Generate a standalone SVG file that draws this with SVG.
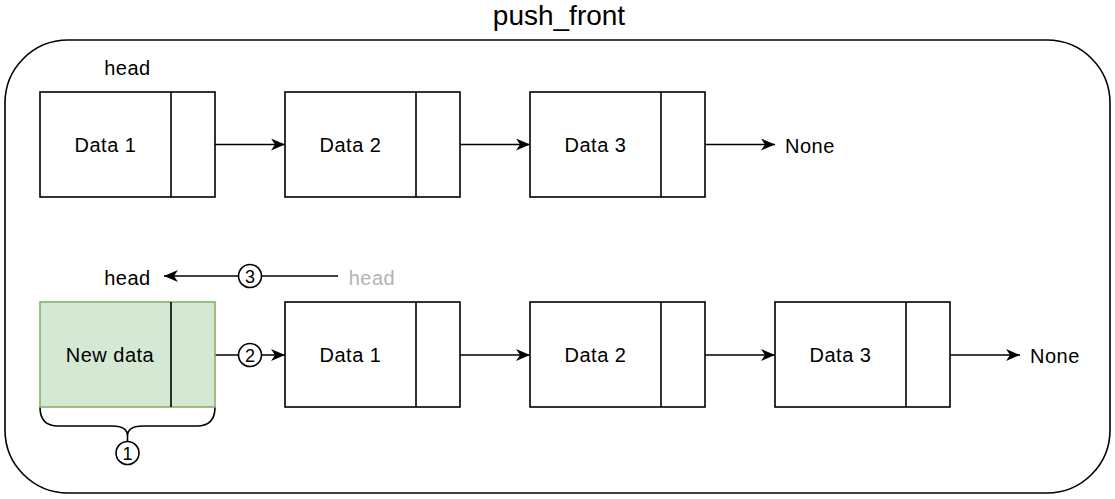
<svg xmlns="http://www.w3.org/2000/svg" width="1115" height="499" viewBox="0 0 1115 499">
<style>
  text { font-family: "Liberation Sans", Arial, sans-serif; fill: #000; }
  .lbl { font-size: 20px; letter-spacing: 0.5px; }
  .mid { text-anchor: middle; }
  .box { fill: #fff; stroke: #000; stroke-width: 1.6; }
  .newbox { fill: #d5e8d4; stroke: #82b366; stroke-width: 1.6; }
  .div { stroke: #000; stroke-width: 1.6; }
  .edge { stroke: #000; stroke-width: 1.6; fill: none; }
  .num { fill: #fff; stroke: #000; stroke-width: 1.6; }
  .numt { font-size: 18px; text-anchor: middle; }
  .grey { fill: #b3b3b3; }
</style>
<defs>
  <marker id="arr" markerUnits="userSpaceOnUse" markerWidth="14" markerHeight="12" refX="14" refY="6" orient="auto">
    <path d="M0,0 L14,6 L0,12 L4,6 Z" fill="#000"/>
  </marker>
</defs>
<rect width="1115" height="499" fill="#fff"/>
<g id="container">
  <rect x="5" y="40" width="1105" height="453" rx="63" ry="63" fill="none" stroke="#000" stroke-width="1.6"/>
  <text x="559" y="25" class="mid" font-size="28">push_front</text>
</g>

<g id="connectors">
  <line class="edge" x1="215" y1="144.5" x2="285" y2="144.5" marker-end="url(#arr)"/>
  <line class="edge" x1="460" y1="144.5" x2="530" y2="144.5" marker-end="url(#arr)"/>
  <line class="edge" x1="705" y1="144.5" x2="775" y2="144.5" marker-end="url(#arr)"/>
  <line class="edge" x1="215" y1="355" x2="285" y2="355" marker-end="url(#arr)"/>
  <line class="edge" x1="460" y1="355" x2="530" y2="355" marker-end="url(#arr)"/>
  <line class="edge" x1="705" y1="355" x2="775" y2="355" marker-end="url(#arr)"/>
  <line class="edge" x1="950" y1="355" x2="1020" y2="355" marker-end="url(#arr)"/>
  <line class="edge" x1="338" y1="276" x2="164" y2="276" marker-end="url(#arr)"/>
  <path class="edge" d="M40,407 Q40,426 58,426 L112,426 Q127.5,426 127.5,436 L127.5,442 M215,407 Q215,426 197,426 L143,426 Q127.5,426 127.5,436"/>
</g>

<g id="top-head"><text x="127.5" y="75" class="lbl mid">head</text></g>
<g id="top-data1">
  <rect class="box" x="40" y="92" width="175" height="105"/>
  <line class="div" x1="171" y1="92" x2="171" y2="197"/>
  <text x="105.5" y="152" class="lbl mid">Data 1</text>
</g>
<g id="top-data2">
  <rect class="box" x="285" y="92" width="175" height="105"/>
  <line class="div" x1="416" y1="92" x2="416" y2="197"/>
  <text x="350.5" y="152" class="lbl mid">Data 2</text>
</g>
<g id="top-data3">
  <rect class="box" x="530" y="92" width="175" height="105"/>
  <line class="div" x1="661" y1="92" x2="661" y2="197"/>
  <text x="595.5" y="152" class="lbl mid">Data 3</text>
</g>
<g id="top-none"><text x="785" y="153" class="lbl">None</text></g>

<g id="bottom-head"><text x="127.5" y="285" class="lbl mid">head</text></g>
<g id="old-head"><text x="372" y="285" class="lbl mid grey">head</text></g>
<g id="new-data">
  <rect class="newbox" x="40" y="302" width="175" height="105"/>
  <line class="div" x1="171" y1="302" x2="171" y2="407"/>
  <text x="110" y="362" class="lbl mid">New data</text>
</g>
<g id="bottom-data1">
  <rect class="box" x="285" y="302" width="175" height="105"/>
  <line class="div" x1="416" y1="302" x2="416" y2="407"/>
  <text x="350.5" y="362" class="lbl mid">Data 1</text>
</g>
<g id="bottom-data2">
  <rect class="box" x="530" y="302" width="175" height="105"/>
  <line class="div" x1="661" y1="302" x2="661" y2="407"/>
  <text x="595.5" y="362" class="lbl mid">Data 2</text>
</g>
<g id="bottom-data3">
  <rect class="box" x="775" y="302" width="175" height="105"/>
  <line class="div" x1="906" y1="302" x2="906" y2="407"/>
  <text x="840.5" y="362" class="lbl mid">Data 3</text>
</g>
<g id="bottom-none"><text x="1030" y="363" class="lbl">None</text></g>

<g id="step1">
  <circle class="num" cx="127.5" cy="453" r="11.5"/>
  <text x="127.5" y="459.5" class="numt">1</text>
</g>
<g id="step2">
  <circle class="num" cx="250" cy="355" r="11.5"/>
  <text x="250" y="361.5" class="numt">2</text>
</g>
<g id="step3">
  <circle class="num" cx="250" cy="276" r="11.5"/>
  <text x="250" y="282.5" class="numt">3</text>
</g>
</svg>
